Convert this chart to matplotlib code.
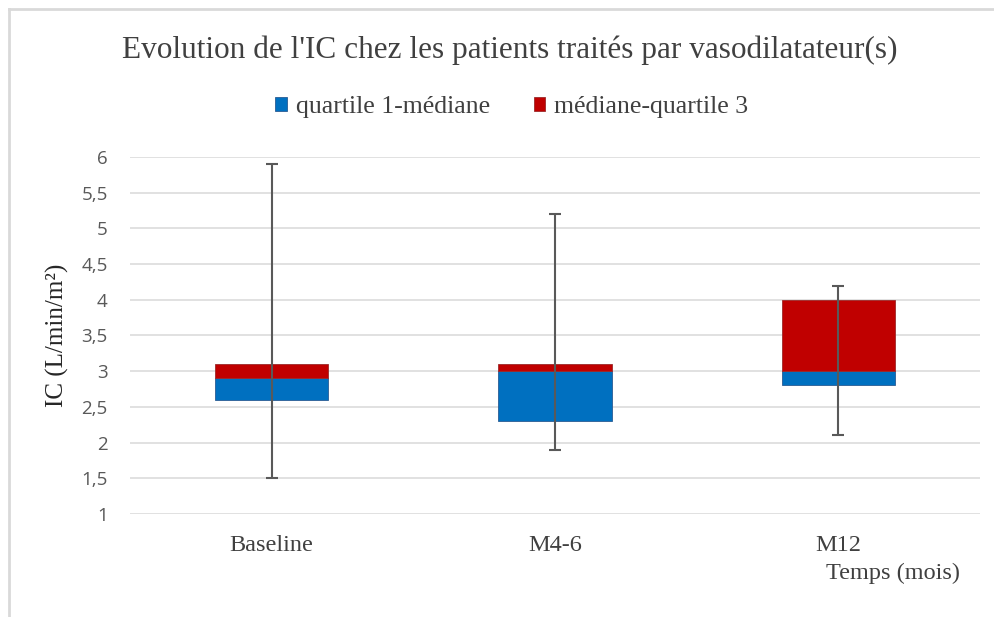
import numpy as np
import matplotlib.pyplot as plt
from matplotlib.lines import Line2D
from matplotlib.patches import Patch

# data
categories = ['Baseline', 'M4-6', 'M12']
minimum = [1.5, 1.9, 2.1]
quartile1 = [2.6, 2.3, 2.8]
median = [2.9, 3.0, 3.0]
quartile3 = [3.1, 3.1, 4.0]
maximum = [5.9, 5.2, 4.2]
y_ticks = [1, 1.5, 2, 2.5, 3, 3.5, 4, 4.5, 5, 5.5, 6]

blue = '#0070C0'
red = '#C00000'
serif = 'Liberation Serif'
sans = 'Open Sans'

q1 = np.array(quartile1)
med = np.array(median)
q3 = np.array(quartile3)
x = np.arange(len(categories))

fig = plt.figure(figsize=(9.94, 6.17), dpi=100)
ax = fig.add_axes([130 / 994, 103 / 617, 850 / 994, 357 / 617])

# stacked boxes: bottom part q1->median, top part median->q3
ax.bar(x, med - q1, bottom=q1, width=0.4, color=blue, edgecolor='#2a5c93',
       linewidth=0.6, zorder=2)
ax.bar(x, q3 - med, bottom=med, width=0.4, color=red, edgecolor='#9c2a2a',
       linewidth=0.6, zorder=2)

# whiskers min -> max
err = [med - np.array(minimum), np.array(maximum) - med]
ax.errorbar(x, med, yerr=err, fmt='none', ecolor='#595959', elinewidth=1.5,
            capsize=4.5, capthick=1.5, zorder=3)

ax.set_xlim(-0.5, 2.5)
ax.set_ylim(1, 6)
ax.set_yticks(y_ticks)
ax.set_yticklabels([str(t).replace('.', ',') if t % 1 else str(int(t)) for t in y_ticks],
                   fontfamily=sans, fontsize=13.5, color='#595959')
ax.set_xticks(x)
ax.set_xticklabels(categories, fontfamily=serif, fontsize=17.5, color='#404040')
ax.tick_params(axis='x', length=0, pad=15)
ax.tick_params(axis='y', length=0, pad=16)
ax.grid(axis='y', color='#d9d9d9', linewidth=1.1, zorder=0)
ax.set_axisbelow(True)
for s in ax.spines.values():
    s.set_visible(False)

ax.set_ylabel('IC (L/min/m²)', fontfamily=serif, fontsize=18, color='#262626', labelpad=9)

fig.text(960 / 994, 1 - 573 / 617, 'Temps (mois)', ha='right', va='center',
         fontfamily=serif, fontsize=17.5, color='#404040')

fig.text(510 / 994, 1 - 50 / 617, "Evolution de l'IC chez les patients traités par vasodilatateur(s)",
         ha='center', va='center', fontfamily=serif, fontsize=22.5, color='#404040')

handles = [Patch(facecolor=blue, edgecolor='#2a5c93', linewidth=0.6),
           Patch(facecolor=red, edgecolor='#9c2a2a', linewidth=0.6)]
fig.legend(handles, ['quartile 1-médiane', 'médiane-quartile 3'], loc='center',
           bbox_to_anchor=(512 / 994, 1 - 107 / 617), ncol=2, frameon=False,
           prop={'family': serif, 'size': 18.5}, handlelength=0.45, handleheight=0.5,
           handletextpad=0.35, columnspacing=1.7, labelcolor='#404040')

# chart frame
fig.add_artist(Line2D([9 / 994, 9 / 994], [0, 1 - 9 / 617], transform=fig.transFigure,
                      color='#d9d9d9', linewidth=2))
fig.add_artist(Line2D([9 / 994, 1], [1 - 9 / 617, 1 - 9 / 617], transform=fig.transFigure,
                      color='#d9d9d9', linewidth=2))

fig.savefig('out.png', dpi=100)
